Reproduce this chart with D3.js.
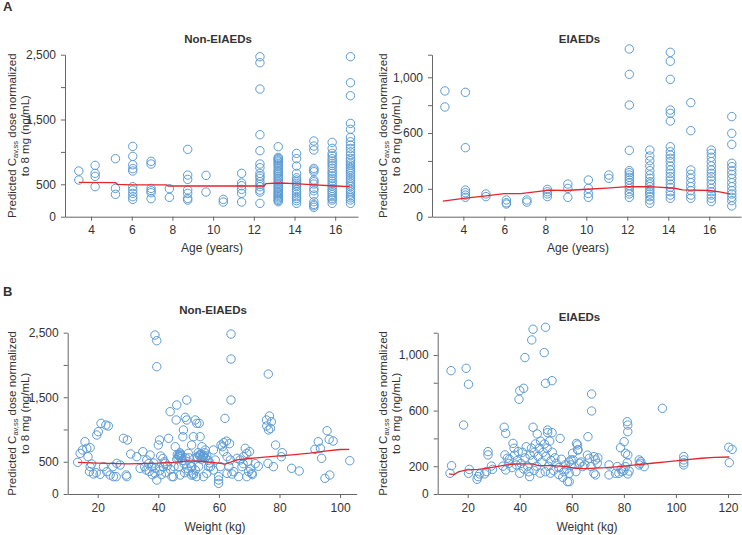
<!DOCTYPE html>
<html>
<head>
<meta charset="utf-8">
<script src="https://cdn.jsdelivr.net/npm/d3@7"></script>
<style>
body { margin: 0; background: #fff; }
svg text { font-family: "Liberation Sans", Arial, sans-serif; fill: #333; }
</style>
</head>
<body>
<div id="chart"></div>
<script>
// data: age panels, [age, [values...]]
const ageNonEI = [
    [3.4, [705, 566]],
    [4.2, [792, 669, 622, 463]],
    [5.2, [895, 437, 345]],
    [6.05, [1085, 931, 802, 741, 705, 463, 411, 360, 309, 267]],
    [6.95, [854, 813, 437, 400, 370, 278]],
    [7.85, [432, 298]],
    [8.75, [1039, 643, 576, 411, 360, 283, 257]],
    [9.65, [638, 380]],
    [10.5, [267, 226]],
    [11.4, [669, 520, 478, 422, 360, 226]],
    [12.3, [2469, 2376, 1970, 1265, 1018, 813, 756, 669, 628, 592, 540, 500, 463, 411, 380, 206]],
    [13.2, [1080, 915, 900, 885, 864, 845, 823, 800, 772, 740, 710, 690, 670, 643, 615, 592, 566, 540, 515, 489, 460, 437, 410, 386, 370, 350, 330, 309, 290, 270, 250, 231]],
    [14.1, [977, 895, 782, 669, 600, 566, 540, 514, 489, 463, 420, 386, 350, 309, 280, 247, 206]],
    [14.95, [1168, 1090, 1029, 746, 720, 694, 566, 540, 504, 437, 400, 334, 231, 190, 170, 144]],
    [15.85, [1147, 1054, 977, 940, 895, 860, 823, 790, 746, 700, 669, 630, 592, 550, 514, 475, 437, 400, 370, 340, 309, 280, 257, 206]],
    [16.75, [2469, 2068, 1867, 1440, 1348, 1224, 1157, 1106, 1054, 1000, 952, 900, 864, 830, 797, 760, 730, 700, 669, 630, 592, 560, 525, 490, 463, 420, 386, 350, 319, 290, 257, 206]]
];
const ageEI = [
    [3.1, [902, 787]],
    [4.1, [892, 495, 191, 172, 155, 139]],
    [5.1, [163, 144]],
    [6.1, [120, 100, 91]],
    [7.1, [120, 105]],
    [8.1, [196, 179, 163, 144]],
    [9.1, [234, 203, 139]],
    [10.1, [263, 203, 167, 139]],
    [11.1, [299, 275]],
    [12.1, [1203, 1021, 801, 476, 330, 316, 299, 282, 263, 244, 222, 203, 179, 163, 139]],
    [13.1, [478, 435, 402, 364, 330, 299, 275, 251, 234, 215, 196, 179, 163, 144, 120, 96]],
    [14.1, [1179, 1115, 985, 765, 741, 686, 502, 466, 442, 419, 395, 364, 335, 311, 287, 263, 234, 210, 179, 155, 132]],
    [15.1, [818, 617, 335, 304, 275, 244, 215, 187, 155, 132]],
    [16.1, [478, 454, 426, 395, 364, 335, 311, 287, 263, 234, 203, 179, 155, 132, 108]],
    [17.1, [718, 598, 519, 383, 359, 330, 304, 275, 244, 215, 187, 163, 139, 115, 77]]
];

// weight panels, [kg, value]
const weightNonEI = [
    [13.4, 491], [14.2, 630], [15, 682], [15.8, 811], [16.4, 708], [17.5, 718], [16.8, 578], [17.5, 424],
    [17.3, 346], [18.6, 310], [18, 465], [19.7, 914], [20.2, 966], [21.1, 1095], [22.7, 1069], [23.5, 1054],
    [19.5, 330], [20.8, 305], [21.9, 424], [23, 346], [24.1, 294], [25.2, 269], [26.1, 269], [26.3, 475],
    [27.4, 449], [25, 424], [28.5, 863], [29.8, 837], [29.4, 294], [29.6, 269], [30.9, 620], [32.9, 578],
    [34.9, 656], [34, 398], [36, 372], [36.2, 527], [37.3, 604], [37.8, 424], [38.9, 2464], [39.5, 2376],
    [39.5, 1973], [38.9, 320], [39.5, 217], [40, 759], [40.4, 837], [40.8, 589], [41.7, 424], [42.3, 475],
    [43.4, 863], [43.9, 1276], [44.5, 269], [45, 269], [45.2, 424], [45.6, 733], [45.9, 1147], [46.1, 1379],
    [46.1, 537], [47.2, 604], [46.7, 424], [47.2, 294], [48.1, 888], [48.9, 1188], [49.4, 1456], [49.4, 1147],
    [48.3, 992], [49.9, 630], [51, 759], [51, 424], [51.6, 294], [52.7, 1095],
    [35.5, 420], [37, 350], [38, 300], [39, 400], [40.5, 360], [41, 300], [42, 500], [43, 440], [44, 380],
    [42.5, 330], [36.8, 470], [38.5, 480], [41.5, 550],
    [46.5, 560], [46.8, 600], [47, 580], [47.3, 620], [47.5, 550], [47.8, 590], [46.3, 610], [47.1, 640],
    [48, 520], [48.5, 470], [49, 560], [49.5, 400], [50, 350], [50.5, 480], [50.2, 560], [48.7, 330],
    [64, 2479], [64, 2092], [64, 1457], [62, 1172], [76.3, 1859], [75.7, 1147], [76.7, 1209], [75.8, 1054],
    [76.4, 992], [77.3, 1121], [77, 1017], [78.7, 759], [80.9, 640], [80.6, 578], [76.2, 475], [78, 424],
    [84, 398], [86.5, 356], [91.7, 692], [92.8, 811], [93.5, 708], [93.9, 553], [95.7, 981], [96.4, 847],
    [97.7, 821], [95, 243], [96.6, 294], [103.2, 516],
    [53.5, 1095], [53.8, 888], [51.6, 888], [52.2, 1147], [54.4, 733], [55.5, 682], [52.8, 578], [54.9, 578],
    [53.8, 589], [56, 320], [54.9, 269], [56.6, 424], [58.2, 682], [58.8, 527], [59.9, 269], [59.9, 217],
    [59.9, 165], [60.7, 759], [61.6, 795], [61.2, 733], [62.7, 578], [63.8, 527], [63.3, 424], [62.7, 320],
    [64.3, 310], [64.9, 346], [66.5, 269], [67.6, 424], [68.7, 708], [69.2, 630], [70.1, 656], [69.8, 346],
    [70.9, 320], [69.2, 269], [66, 553], [67, 527], [68.1, 578], [61.6, 656], [60.5, 424], [57.2, 424],
    [58.2, 372], [52.2, 372], [53.3, 424], [51, 424], [50.9, 294], [51.5, 320], [52.6, 269],
    [53, 560], [53.5, 600], [54, 620], [54.5, 580], [55, 600], [55.5, 560], [56, 590], [54.2, 540],
    [53.2, 640], [55.3, 640], [56.5, 520], [57, 480], [62.5, 820], [63.5, 780],
    [71, 300], [70.5, 390], [72, 470], [73, 430], [69.5, 500], [68, 470]
];
const weightEI = [
    [13.6, 887], [13.8, 204], [13.2, 149], [19.4, 904], [20.3, 789], [18.4, 496], [20.6, 177], [20.3, 149],
    [24, 125], [23.6, 106], [24.6, 144], [26.5, 144], [27.2, 161], [27.8, 305], [27.8, 281], [29.1, 201],
    [29.5, 177], [34, 480], [34.6, 436], [34.3, 281], [35.2, 257], [34.6, 173], [37.4, 364], [37.8, 329],
    [38.7, 209], [39.4, 305], [39.7, 681], [40, 743], [41.5, 760], [42, 981], [44.6, 1108], [45.1, 1185],
    [49.9, 1199], [49.4, 1017], [49.9, 796], [52.4, 815], [45.1, 480], [46.7, 432], [50.7, 460], [50.7, 441],
    [52.4, 441], [55.5, 400], [43.8, 125], [40, 149], [58.3, 89], [60.5, 245], [61.8, 364], [62.4, 317],
    [36, 250], [38, 280], [39, 240], [40.5, 220], [41, 300], [42, 260], [42.5, 340], [43, 200], [44, 280],
    [44.5, 330], [45, 240], [45.5, 300], [46, 360], [46.5, 200], [47, 270], [47.5, 330], [48, 380], [48.5, 230],
    [49, 300], [49.5, 360], [50, 270], [50.5, 330], [51, 200], [51.5, 380], [52, 240], [52.5, 300], [53, 170],
    [53.5, 260], [54, 220], [55, 190], [56, 250], [57, 160], [57.5, 210], [58, 180], [59, 230], [41.5, 180],
    [43.5, 160], [45.5, 170], [47.8, 150], [49.8, 160], [51.8, 150], [55, 140], [56.5, 120], [37, 190],
    [35.8, 220], [33.5, 200],
    [67.6, 719], [67.6, 597], [66.2, 412], [94.8, 616], [81.3, 520], [81.5, 496], [81.5, 448], [80.1, 376],
    [78.7, 333], [80.6, 293], [81.5, 281], [81.3, 225], [80.6, 197], [79.3, 161], [78.1, 149], [76.8, 149],
    [74.3, 137], [74.3, 209], [77.5, 197], [81.5, 144], [85.9, 245], [86.3, 221], [86.5, 233], [85.9, 209],
    [87.8, 197], [103, 269], [103, 245], [103, 225], [103, 209], [120.3, 336], [121.6, 321], [120.5, 225],
    [68.5, 269], [69.1, 245], [69.8, 221], [68.5, 149], [69.1, 137], [67.4, 197], [66.7, 257], [64.2, 197],
    [62.9, 221], [61.6, 161], [62.2, 353], [62.2, 317], [60.3, 293], [59.7, 245], [59.7, 209], [59, 149],
    [59, 89], [63.5, 230], [65, 210], [66, 280], [70, 260], [79, 180], [80, 170], [82, 165]
];

// smoothed trend lines
const ageNonEITrend = [[3.4, 530], [5.2, 525], [5.3, 500], [6, 492], [7.7, 490], [7.8, 474], [12.5, 474],
    [12.6, 510], [13.3, 520], [14, 510], [15, 490], [16, 474], [16.7, 463]];
const ageEITrend = [[3, 112], [4, 132], [5, 148], [6, 165], [6.8, 165], [7.5, 178], [8.2, 190], [9, 188],
    [10, 197], [11, 205], [12, 215], [13, 216], [13.5, 212], [14.3, 204], [14.7, 193], [16, 188], [16.5, 178], [17, 163]];
const weightNonEITrend = [[13.5, 489], [20, 478], [30, 468], [40, 478], [45, 489], [50, 514], [55, 504],
    [60, 478], [62, 463], [66, 530], [70, 550], [75, 571], [80, 590], [85, 610], [90, 633], [95, 665], [100, 690], [103, 692]];
const weightEITrend = [[12.8, 144], [14.7, 140], [16.6, 161], [19.8, 173], [24, 177], [27.2, 185], [31, 197],
    [34.9, 209], [38.7, 216], [45.1, 216], [47, 204], [52.8, 204], [57.9, 197], [61.6, 185], [65.4, 182],
    [73.1, 189], [78.1, 197], [84.5, 209], [90.8, 221], [97.1, 233], [103.5, 245], [109.8, 257], [114.9, 264], [120.5, 266]];

// axis ticks
const ageTicks = [4, 6, 8, 10, 12, 14, 16];
const weightNonTicks = [20, 40, 60, 80, 100];
const weightEITicks = [20, 40, 60, 80, 100, 120];
const yNonTicks = [0, 500, 1000, 1500, 2000, 2500];
const yNonLabels = [0, 500, 1500, 2500];
const yEITicks = [0, 200, 400, 600, 800, 1000, 1162];
const yEILabels = [0, 200, 600, 1000];

// constants
const WIDTH = 742;
const HEIGHT = 535;
const POINT_COLOR = "#5b9bd5";
const POINT_RADIUS = 4.2;
const TREND_COLOR = "#e3262b";
const AXIS_COLOR = "#666";

const flatten = groups => groups.flatMap(([a, vs]) => vs.map(v => [a, v]));

const svg = d3.select("#chart").append("svg")
    .attr("width", WIDTH)
    .attr("height", HEIGHT);

const panels = [
    { left: 0, title: "Non-EIAEDs", titleX: 218, titleY: 43, xLabel: "Age (years)", xLabelX: 212, xLabelY: 252,
      xDomain: [2.72, 17.12], xRange: [65, 358], yDomain: [0, 2500], yRange: [216.7, 54.7],
      xTicks: ageTicks, yTicks: yNonTicks, yLabels: yNonLabels, points: flatten(ageNonEI), trend: ageNonEITrend },
    { left: 371, title: "EIAEDs", titleX: 579.5, titleY: 43, xLabel: "Age (years)", xLabelX: 578, xLabelY: 252,
      xDomain: [2.47, 17.55], xRange: [432, 741], yDomain: [0, 1162], yRange: [216.7, 54.7],
      xTicks: ageTicks, yTicks: yEITicks, yLabels: yEILabels, points: flatten(ageEI), trend: ageEITrend },
    { left: 0, title: "Non-EIAEDs", titleX: 213, titleY: 314, xLabel: "Weight (kg)", xLabelX: 215, xLabelY: 531,
      xDomain: [10.1, 105.48], xRange: [67.7, 356.7], yDomain: [0, 2500], yRange: [494, 332.7],
      xTicks: weightNonTicks, yTicks: yNonTicks, yLabels: yNonLabels, points: weightNonEI, trend: weightNonEITrend },
    { left: 371, title: "EIAEDs", titleX: 579.5, titleY: 321, xLabel: "Weight (kg)", xLabelX: 587, xLabelY: 531,
      xDomain: [8.47, 125], xRange: [437.7, 741], yDomain: [0, 1160], yRange: [494, 332.7],
      xTicks: weightEITicks, yTicks: yEITicks.slice(0, 6).concat([1160]), yLabels: yEILabels, points: weightEI, trend: weightEITrend }
];

svg.append("text").attr("x", 3).attr("y", 11).attr("font-size", 13).attr("font-weight", "bold").text("A");
svg.append("text").attr("x", 3).attr("y", 296).attr("font-size", 13).attr("font-weight", "bold").text("B");

panels.forEach(drawPanel);

function drawPanel(p) {
    const x = d3.scaleLinear().domain(p.xDomain).range(p.xRange);
    const y = d3.scaleLinear().domain(p.yDomain).range(p.yRange);
    const g = svg.append("g");

    const xAxis = d3.axisBottom(x).tickValues(p.xTicks).tickSize(4).tickSizeOuter(0).tickPadding(5)
        .tickFormat(d3.format("d"));
    const yAxis = d3.axisLeft(y).tickValues(p.yTicks).tickSize(4).tickSizeOuter(0).tickPadding(5)
        .tickFormat(d => p.yLabels.includes(d) ? d3.format(",")(d) : "");

    g.append("g").attr("transform", "translate(0," + p.yRange[0] + ")").call(xAxis);
    g.append("g").attr("transform", "translate(" + p.xRange[0] + ",0)").call(yAxis);
    g.selectAll(".domain, .tick line").attr("stroke", AXIS_COLOR);
    g.selectAll(".tick text").attr("font-size", 12).attr("fill", "#333")
        .attr("font-family", "'Liberation Sans', Arial, sans-serif");

    // points
    g.append("g").selectAll("circle")
        .data(p.points)
        .join("circle")
        .attr("cx", d => x(d[0]))
        .attr("cy", d => y(d[1]))
        .attr("r", POINT_RADIUS)
        .attr("fill", "none")
        .attr("stroke", POINT_COLOR)
        .attr("stroke-width", 1);

    // trend
    g.append("path")
        .datum(p.trend)
        .attr("d", d3.line().x(d => x(d[0])).y(d => y(d[1])))
        .attr("fill", "none")
        .attr("stroke", TREND_COLOR)
        .attr("stroke-width", 1.3);

    // titles
    g.append("text").attr("x", p.titleX).attr("y", p.titleY).attr("text-anchor", "middle")
        .attr("font-size", 11.5).attr("font-weight", "bold").text(p.title);
    g.append("text").attr("x", p.xLabelX).attr("y", p.xLabelY).attr("text-anchor", "middle")
        .attr("font-size", 12).text(p.xLabel);

    const cy = (p.yRange[0] + p.yRange[1]) / 2;
    const line1 = g.append("text")
        .attr("transform", "translate(" + (p.left + 15.5) + "," + cy + ") rotate(-90)")
        .attr("text-anchor", "middle")
        .attr("font-size", 11.5);
    line1.append("tspan").text("Predicted C");
    line1.append("tspan").attr("font-size", 7.5).attr("dy", 2.5).text("av,ss");
    line1.append("tspan").attr("dy", -2.5).text(" dose normalized");
    g.append("text")
        .attr("transform", "translate(" + (p.left + 28.5) + "," + cy + ") rotate(-90)")
        .attr("text-anchor", "middle")
        .attr("font-size", 11.5)
        .text("to 8 mg (ng/mL)");
}
</script>
</body>
</html>
